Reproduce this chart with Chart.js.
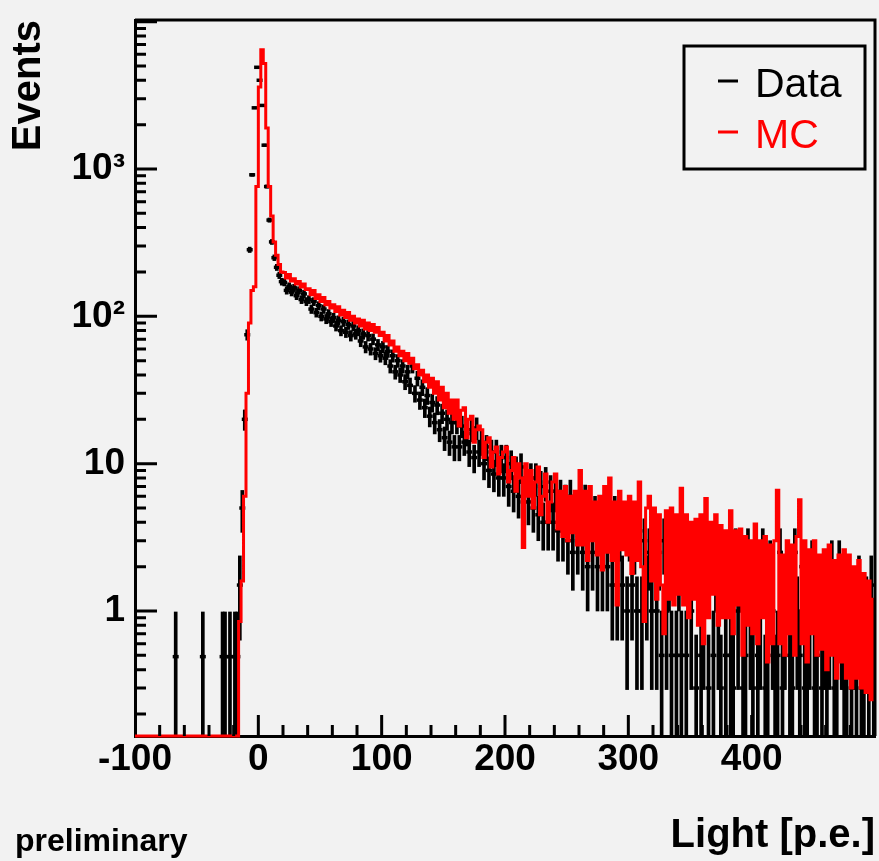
<!DOCTYPE html>
<html>
<head>
<meta charset="utf-8">
<title>Light [p.e.]</title>
<script src="https://cdn.jsdelivr.net/npm/chart.js@4.4.1/dist/chart.umd.min.js"></script>
<style>
  html, body { margin: 0; padding: 0; background: #f2f2f2; }
  canvas { display: block; }
</style>
</head>
<body>
<canvas id="lightChart" width="879" height="861"></canvas>
<script>
// binning: 2 p.e. wide bins from -100 to 500
const binLow = -100;
const binWidth = 2;
const nBins = 300;

const yAxisMin = 0.1418;
const yAxisMax = 10260;
const xTickLabels = [-100, 0, 100, 200, 300, 400];
const yTickValues = [1, 10, 100, 1000];
const yTickText = ['1', '10', '10\u00b2', '10\u00b3'];

// MC histogram, one row = 10 bins = 20 p.e.
const mcCounts = [
  0, 0, 0, 0, 0, 0, 0, 0, 0, 0,
  0, 0, 0, 0, 0, 0, 0, 0, 0, 0,
  0, 0, 0, 0, 0, 0, 0, 0, 0, 0,
  0, 0, 0, 0, 0, 0, 0, 0, 0, 0,
  0, 0, 0.85, 1.6, 6, 30, 90, 150, 159, 760,
  3600, 6450, 5200, 1900, 760, 480, 320, 260, 225, 200,
  198, 182, 192, 174, 180, 166, 172, 158, 166, 152,
  154, 140, 150, 132, 140, 126, 134, 120, 126, 114,
  120, 108, 116, 102, 110, 98, 106, 94, 100, 90,
  96, 86, 94, 82, 90, 80, 88, 78, 84, 74,
  78, 68, 74, 64, 68, 58, 62, 54, 58, 50,
  56, 48, 52, 44, 47, 40, 43, 36, 40, 33,
  38, 30, 36, 27, 33, 24, 30, 22, 27, 20,
  27, 18, 23, 24, 15, 20, 21, 14, 17, 18,
  17, 11, 14, 15, 9.5, 12, 13, 8.5, 11, 12,
  13, 7.5, 9, 11, 6.5, 10, 8, 2.7, 10, 6,
  9, 5, 7.5, 9.5, 4.5, 6, 8.5, 4, 5.5, 7.5,
  8.5, 3.6, 6.5, 3.2, 7, 3, 6, 3.4, 6.5, 2.8,
  9, 2.8, 6.5, 2.2, 7, 3, 5.5, 2.4, 6, 1.9,
  7, 2.5, 8, 2.2, 5.5, 1.1, 6.5, 2.6, 5.5, 2.4,
  6, 1.8, 5.5, 2.2, 7.5, 2, 0.85, 5, 6, 1.6,
  5, 1.2, 4.5, 1.5, 0.7, 4.8, 1.2, 5, 1.1, 4.5,
  1.3, 6.8, 1.1, 4.5, 0.9, 4, 1.2, 4.2, 0.8, 4.5,
  0.6, 5.8, 0.9, 4, 1.3, 4.5, 0.8, 3.8, 0.9, 3.5,
  0.9, 4.8, 0.7, 3.5, 1.1, 3.6, 0.5, 3.2, 0.8, 3,
  0.7, 3.9, 0.6, 3, 0.9, 3.2, 0.45, 2.8, 0.6, 3,
  6.6, 0.6, 2.4, 0.5, 3, 0.7, 2.8, 0.5, 3.2, 5.7,
  0.6, 3, 0.45, 2.6, 0.7, 3, 0.5, 2.4, 0.55, 2.6,
  0.4, 2.8, 0.5, 2.2, 0.35, 2.4, 0.45, 2.6, 0.35, 2.4,
  0.3, 2, 0.35, 2.2, 0.3, 1.8, 0.28, 1.6, 0.25, 1.2
];

// measured data, same bins
const dataCounts = [
  0, 0, 0, 0, 0, 0, 0, 0, 0, 0,
  0, 0, 0, 0, 0, 0, 0.49, 0, 0, 0,
  0, 0, 0, 0, 0, 0, 0, 0.49, 0, 0,
  0, 0, 0, 0, 0, 0.49, 0.49, 0, 0.49, 0,
  0.49, 0.49, 1.5, 5, 20, 75, 283, 913, 2600, 4900,
  4000, 2700, 1450, 760, 450, 320, 250, 215, 190, 172,
  170, 150, 160, 146, 156, 138, 150, 130, 142, 126,
  130, 112, 126, 106, 118, 100, 112, 96, 104, 92,
  98, 86, 94, 80, 92, 78, 88, 74, 86, 76,
  80, 68, 76, 62, 74, 60, 70, 56, 64, 54,
  62, 52, 58, 46, 54, 42, 50, 40, 46, 36,
  42, 34, 46, 30, 38, 27, 33, 24, 29, 21,
  26, 19, 25, 17, 22, 15, 20, 14, 19, 13,
  19, 13, 18, 14, 16, 12, 17, 11, 17.5, 12,
  14, 10, 13, 9, 12, 8.5, 12, 8, 11, 8,
  11, 7, 10, 6.5, 9, 6, 9.5, 5.5, 8, 5.5,
  8, 5, 8, 4.5, 7, 4, 7.5, 4, 6.5, 4,
  6.5, 3.5, 6, 3.5, 5.5, 3, 6, 2.5, 5, 3,
  5, 2.5, 5.5, 2, 5, 2.5, 4.5, 2, 4.5, 2,
  4.5, 2, 4, 1.5, 4.5, 1.5, 3.5, 1.5, 4, 1,
  3.5, 1.5, 3, 1, 3.5, 1, 3, 1.5, 2.5, 1,
  3, 1, 2.5, 0.5, 3, 1, 2, 0.5, 2.5, 0.5,
  2, 0.5, 3, 0.5, 2, 1, 2.5, 0.3, 2, 0.5,
  1, 2, 0.3, 2.5, 0.5, 2, 1, 0.3, 2, 0.5,
  2, 0.5, 0.3, 2.5, 1, 2, 0.3, 0.5, 2.5, 1,
  0.3, 2, 0.5, 1, 2.5, 0.3, 0.5, 2, 1, 0.3,
  0.5, 2.5, 0.3, 1, 2, 0.5, 0.3, 2.5, 1, 0.5,
  2, 0.3, 0.5, 1, 2, 0.3, 0.5, 1.5, 0.3, 1,
  0.5, 1, 2, 0.3, 0.5, 2, 1, 0.3, 0.5, 1.5,
  0.3, 1, 0.5, 1.5, 0.3, 0.5, 1, 0.3, 1.5, 0.5
];
// weight of one data event, error = sqrt(N) * weight
const dataWeight = 0.5;

const FONT = '"Liberation Sans", Arial, Helvetica, sans-serif';
Chart.defaults.font.family = FONT;
Chart.defaults.color = '#000';

// step outline: one point on each left bin edge, plus the closing edge
const mcSteps = mcCounts.map((v, i) => ({ x: binLow + i * binWidth, y: v > 0 ? v : yAxisMin }));
mcSteps.push({ x: binLow + nBins * binWidth, y: mcSteps[nBins - 1].y });

const dataPoints = [];
const dataErrors = [];
dataCounts.forEach((v, i) => {
    if (v <= 0) return;
    const x = binLow + (i + 0.5) * binWidth;
    const err = Math.sqrt(v * dataWeight);
    dataPoints.push({ x: x, y: v });
    dataErrors.push({ x: x, y: [Math.max(v - err, yAxisMin), v + err] });
});

// frame, inward ticks, legend box and the "preliminary" tag
const rootStyle = {
    id: 'rootStyle',
    afterDatasetsDraw(chart) {
        const { ctx, chartArea: a, scales: { x, y } } = chart;
        ctx.save();
        ctx.strokeStyle = '#000';
        ctx.lineWidth = 3;
        ctx.beginPath();
        ctx.moveTo(a.left, a.top);
        ctx.lineTo(a.right, a.top);
        ctx.lineTo(a.right, a.bottom);
        for (let v = binLow + 20; v < binLow + nBins * binWidth; v += 20) {
            const px = x.getPixelForValue(v);
            ctx.moveTo(px, a.bottom);
            ctx.lineTo(px, a.bottom - (v % 100 === 0 ? 21 : 11));
        }
        for (let e = -1; e <= 4; e++) {
            for (let m = 1; m <= 9; m++) {
                const v = m * Math.pow(10, e);
                if (v <= y.min || v >= y.max) continue;
                const py = y.getPixelForValue(v);
                ctx.moveTo(a.left, py);
                ctx.lineTo(a.left + (m === 1 ? 22 : 11), py);
            }
        }
        ctx.stroke();
        ctx.restore();
    },
    afterDraw(chart) {
        const { ctx, chartArea: a } = chart;
        const right = a.right - 10, top = a.top + 26, w = 181, h = 123;
        ctx.save();
        ctx.fillStyle = '#f2f2f2';
        ctx.fillRect(right - w, top, w, h);
        ctx.lineWidth = 3;
        ctx.strokeStyle = '#000';
        ctx.strokeRect(right - w, top, w, h);

        const items = chart.data.datasets.filter(d => d.inLegend);
        ctx.font = '41px ' + FONT;
        ctx.textBaseline = 'alphabetic';
        items.forEach((d, i) => {
            const base = top + 51 + i * 51;
            ctx.strokeStyle = d.borderColor;
            ctx.beginPath();
            ctx.moveTo(right - 147, base - 16);
            ctx.lineTo(right - 127, base - 16);
            ctx.stroke();
            ctx.fillStyle = d.borderColor;
            ctx.fillText(d.label, right - 110, base);
        });

        ctx.fillStyle = '#000';
        ctx.font = 'bold 32px ' + FONT;
        ctx.fillText('preliminary', 15, 851);
        ctx.restore();
    }
};

new Chart(document.getElementById('lightChart'), {
    type: 'line',
    data: {
        datasets: [
            {
                label: 'Data',
                inLegend: true,
                data: dataPoints,
                showLine: false,
                pointStyle: 'line',
                pointRadius: 3,
                pointHoverRadius: 3,
                pointBorderWidth: 3.5,
                borderColor: '#000000',
                backgroundColor: '#000000',
                order: 1
            },
            {
                type: 'bar',
                label: 'Data errors',
                data: dataErrors,
                backgroundColor: '#000000',
                borderWidth: 0,
                barThickness: 3,
                grouped: false,
                order: 2
            },
            {
                label: 'MC',
                inLegend: true,
                data: mcSteps,
                stepped: 'before',
                borderColor: '#ff0000',
                borderWidth: 3,
                pointRadius: 0,
                fill: false,
                clip: { left: 0, top: 0, right: 0, bottom: 3 },
                order: 0
            }
        ]
    },
    options: {
        responsive: false,
        animation: false,
        events: [],
        layout: { autoPadding: false, padding: { left: 0, top: 20, right: 4, bottom: 0 } },
        plugins: {
            legend: { display: false },
            tooltip: { enabled: false }
        },
        scales: {
            x: {
                type: 'linear',
                min: binLow,
                max: binLow + nBins * binWidth,
                offset: false,
                afterFit: s => { s.height = 125; },
                grid: { display: false, drawTicks: false },
                border: { display: true, color: '#000', width: 3 },
                ticks: {
                    stepSize: 100,
                    autoSkip: false,
                    maxRotation: 0,
                    padding: 2,
                    font: { size: 37, weight: 'bold' },
                    callback: v => xTickLabels.includes(v) ? String(v) : ''
                },
                title: {
                    display: true,
                    text: 'Light [p.e.]',
                    align: 'end',
                    font: { size: 40, weight: 'bold' },
                    padding: { top: 0, bottom: 1 }
                }
            },
            y: {
                type: 'logarithmic',
                min: yAxisMin,
                max: yAxisMax,
                afterFit: s => { s.width = 135; },
                afterBuildTicks: s => { s.ticks = yTickValues.map(v => ({ value: v })); },
                grid: { display: false, drawTicks: false },
                border: { display: true, color: '#000', width: 3 },
                ticks: {
                    padding: 10,
                    font: { size: 37, weight: 'bold', lineHeight: 0.2 },
                    callback: v => yTickText[yTickValues.indexOf(v)]
                },
                title: {
                    display: true,
                    text: 'Events',
                    align: 'end',
                    font: { size: 40, weight: 'bold' },
                    padding: { top: 5, bottom: 0 }
                }
            }
        }
    },
    plugins: [rootStyle]
});
</script>
</body>
</html>
